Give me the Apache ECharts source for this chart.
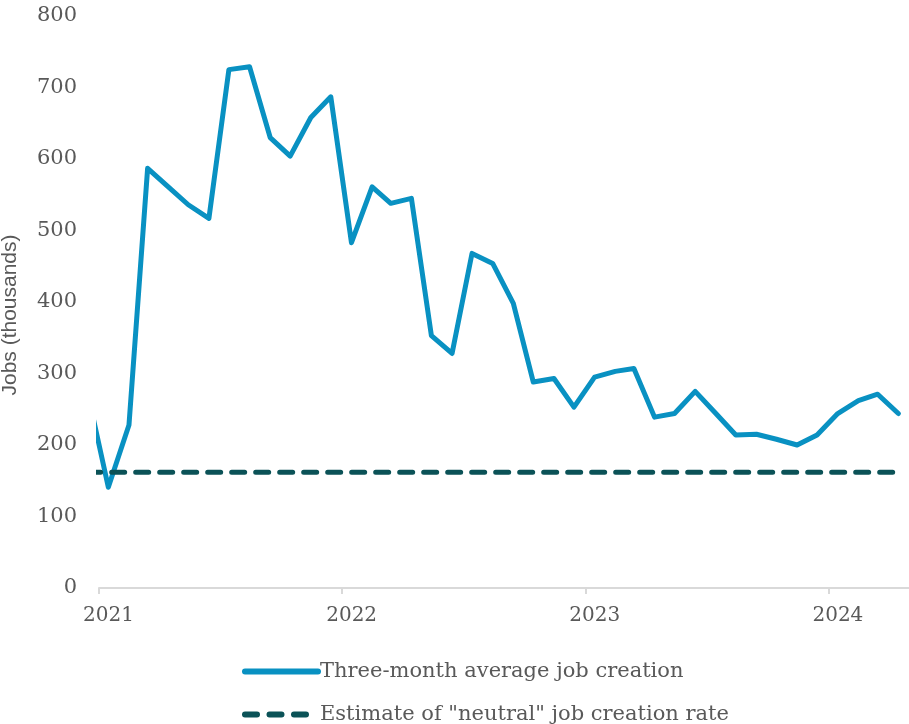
<!DOCTYPE html>
<html>
<head>
<meta charset="utf-8">
<script src="https://cdn.jsdelivr.net/npm/echarts@6/dist/echarts.min.js"></script>
<style>
html,body{margin:0;padding:0;background:#fff;}
#chart{width:909px;height:724px;}
</style>
</head>
<body>
<div id="chart"></div>
<script>
// Months (data plotted at mid-month)
const months = [
  '2020-12',
  '2021-01','2021-02','2021-03','2021-04','2021-05','2021-06','2021-07','2021-08','2021-09','2021-10','2021-11','2021-12',
  '2022-01','2022-02','2022-03','2022-04','2022-05','2022-06','2022-07','2022-08','2022-09','2022-10','2022-11','2022-12',
  '2023-01','2023-02','2023-03','2023-04','2023-05','2023-06','2023-07','2023-08','2023-09','2023-10','2023-11','2023-12',
  '2024-01','2024-02','2024-03','2024-04'
];
// Three-month average job creation (thousands)
const threeMonthAvg = [
  273,
  141,228,587,561,536,517,725,729,630,604,658,687,
  483,561,538,545,353,328,468,454,398,288,293,253,
  295,303,307,239,244,275,245,214,215,208,200,214,
  244,262,271,244
];
// Estimate of "neutral" job creation rate (thousands)
const neutralRate = [
  162,
  162,162,162,162,162,162,162,162,162,162,162,162,
  162,162,162,162,162,162,162,162,162,162,162,162,
  162,162,162,162,162,162,162,162,162,162,162,162,
  162,162,162,162
];
const seriesNames = ['Three-month average job creation', 'Estimate of "neutral" job creation rate'];
const yAxisName = 'Jobs (thousands)';

const toPairs = arr => months.map((m, i) => [m + '-15', arr[i]]);

const chart = echarts.init(document.getElementById('chart'), null, {renderer: 'canvas'});
const serif = 'DejaVu Serif';
const grey = '#595959';
const blue = '#0991c2';
const teal = '#0b5257';
const legendCommon = {
  orient: 'vertical',
  left: 242,
  itemWidth: 73,
  itemHeight: 14,
  padding: 0,
  textStyle: {fontFamily: serif, fontSize: 21, color: grey, padding: [0, 0, 0, -3]},
  itemStyle: {opacity: 0}
};
chart.setOption({
  animation: false,
  grid: {left: 99, right: 0, top: 16, bottom: 136, containLabel: false, outerBoundsMode: 'none'},
  legend: [
    Object.assign({}, legendCommon, {
      top: 661,
      data: [{name: seriesNames[0], lineStyle: {color: blue, width: 6, cap: 'round'}}]
    }),
    Object.assign({}, legendCommon, {
      top: 704,
      data: [{name: seriesNames[1], lineStyle: {color: teal, width: 6, cap: 'round', type: [12, 12.5]}}]
    })
  ],
  xAxis: {
    type: 'time',
    min: '2021-01-01',
    max: '2024-05-01',
    minInterval: 365 * 24 * 3600 * 1000,
    axisLine: {lineStyle: {color: '#d9d9d9', width: 2}},
    axisTick: {show: true, length: 6, lineStyle: {color: '#d9d9d9', width: 2}},
    splitLine: {show: false},
    axisLabel: {
      fontFamily: serif, fontSize: 20, color: grey, margin: 18,
      padding: [0, 0, 0, 19],
      formatter: v => String(new Date(v).getFullYear())
    }
  },
  yAxis: {
    type: 'value',
    min: 0, max: 800, interval: 100,
    name: yAxisName,
    nameLocation: 'middle',
    nameGap: 78,
    nameTextStyle: {fontFamily: 'Liberation Sans', fontSize: 21, color: grey, padding: [0, 26, 0, 0]},
    axisLine: {show: false},
    axisTick: {show: false},
    splitLine: {show: false},
    axisLabel: {fontFamily: serif, fontSize: 21, color: grey, margin: 22}
  },
  series: [
    {
      name: seriesNames[0],
      type: 'line',
      data: toPairs(threeMonthAvg),
      symbol: 'none',
      lineStyle: {color: blue, width: 5, join: 'round', cap: 'round'},
      itemStyle: {color: blue},
      z: 2
    },
    {
      name: seriesNames[1],
      type: 'line',
      data: toPairs(neutralRate),
      symbol: 'none',
      lineStyle: {color: teal, width: 5, type: [13, 11], cap: 'round'},
      itemStyle: {color: teal},
      z: 3
    }
  ]
});
</script>
</body>
</html>
